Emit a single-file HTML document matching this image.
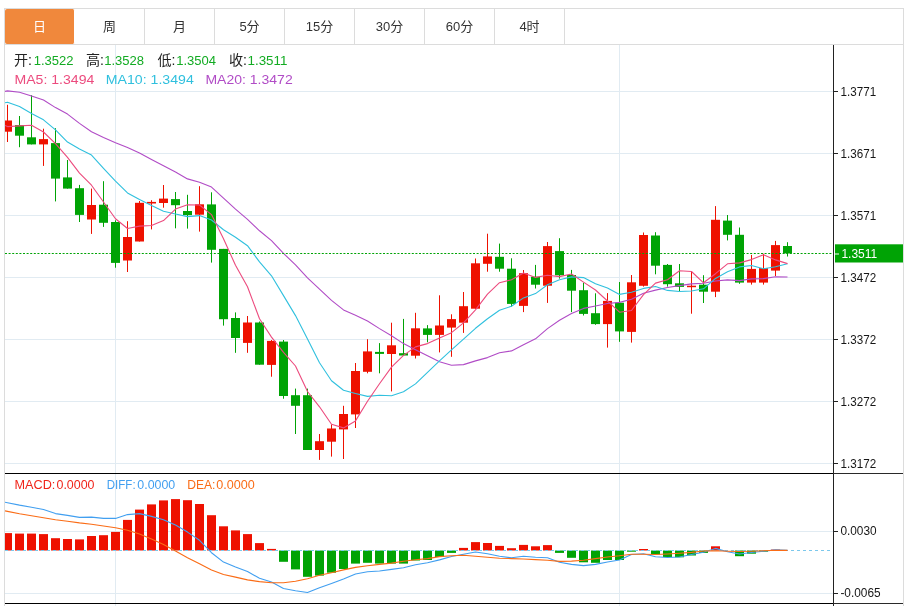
<!DOCTYPE html>
<html><head><meta charset="utf-8"><title>K线图</title>
<style>
html,body{margin:0;padding:0;background:#fff;}
body{width:913px;height:606px;position:relative;overflow:hidden;font-family:"Liberation Sans","Noto Sans CJK SC",sans-serif;}
.frame{position:absolute;left:4px;top:8px;width:898px;height:620px;border:1px solid #dcdcdc;border-bottom:none;}
.tabbar{position:absolute;left:5px;top:44px;width:898px;height:1px;background:#dcdcdc;}
.tab{position:absolute;top:9px;width:69px;height:35px;border-right:1px solid #dcdcdc;line-height:35px;text-align:center;font-size:13px;color:#333;}
.tab.on{background:#f0883c;color:#fff;border-right-color:#fff;border-radius:2px;}
</style></head><body>
<div class="frame"></div>
<div class="tabbar"></div>
<div class="tab on" style="left:5px">日</div><div class="tab" style="left:75px">周</div><div class="tab" style="left:145px">月</div><div class="tab" style="left:215px">5分</div><div class="tab" style="left:285px">15分</div><div class="tab" style="left:355px">30分</div><div class="tab" style="left:425px">60分</div><div class="tab" style="left:495px">4时</div>
<svg width="913" height="606" viewBox="0 0 913 606" style="position:absolute;left:0;top:0" font-family="Liberation Sans, Noto Sans CJK SC, sans-serif">
<defs><clipPath id="cp"><rect x="5" y="45" width="828" height="561"/></clipPath></defs>
<rect x="5" y="91" width="828" height="1" fill="#e1ebf2"/>
<rect x="5" y="153" width="828" height="1" fill="#e1ebf2"/>
<rect x="5" y="215" width="828" height="1" fill="#e1ebf2"/>
<rect x="5" y="277" width="828" height="1" fill="#e1ebf2"/>
<rect x="5" y="339" width="828" height="1" fill="#e1ebf2"/>
<rect x="5" y="401" width="828" height="1" fill="#e1ebf2"/>
<rect x="5" y="463" width="828" height="1" fill="#e1ebf2"/>
<rect x="5" y="531" width="828" height="1" fill="#e1ebf2"/>
<rect x="5" y="593" width="828" height="1" fill="#e1ebf2"/>
<rect x="115" y="45" width="1" height="561" fill="#e1ebf2"/>
<rect x="619" y="45" width="1" height="561" fill="#e1ebf2"/>
<g clip-path="url(#cp)">
<rect x="7.0" y="104.8" width="1" height="37.2" fill="#ee1100"/>
<rect x="3.0" y="120.5" width="9" height="11.2" fill="#ee1100"/>
<rect x="19.0" y="116.0" width="1" height="31.2" fill="#00a305"/>
<rect x="15.0" y="125.1" width="9" height="10.6" fill="#00a305"/>
<rect x="31.0" y="95.2" width="1" height="49.2" fill="#00a305"/>
<rect x="27.0" y="137.3" width="9" height="7.1" fill="#00a305"/>
<rect x="43.0" y="128.7" width="1" height="37.2" fill="#ee1100"/>
<rect x="39.0" y="139.1" width="9" height="5.3" fill="#ee1100"/>
<rect x="55.0" y="128.2" width="1" height="73.2" fill="#00a305"/>
<rect x="51.0" y="143.1" width="9" height="35.5" fill="#00a305"/>
<rect x="67.0" y="160.0" width="1" height="28.6" fill="#00a305"/>
<rect x="63.0" y="177.4" width="9" height="11.2" fill="#00a305"/>
<rect x="79.0" y="184.9" width="1" height="37.1" fill="#00a305"/>
<rect x="75.0" y="188.2" width="9" height="26.7" fill="#00a305"/>
<rect x="91.0" y="188.6" width="1" height="45.3" fill="#ee1100"/>
<rect x="87.0" y="205.0" width="9" height="14.5" fill="#ee1100"/>
<rect x="103.0" y="181.2" width="1" height="45.7" fill="#00a305"/>
<rect x="99.0" y="204.7" width="9" height="18.1" fill="#00a305"/>
<rect x="115.0" y="220.3" width="1" height="47.4" fill="#00a305"/>
<rect x="111.0" y="222.0" width="9" height="40.9" fill="#00a305"/>
<rect x="127.0" y="221.2" width="1" height="50.8" fill="#ee1100"/>
<rect x="123.0" y="237.0" width="9" height="23.5" fill="#ee1100"/>
<rect x="139.0" y="201.0" width="1" height="40.5" fill="#ee1100"/>
<rect x="135.0" y="202.8" width="9" height="38.7" fill="#ee1100"/>
<rect x="151.0" y="200.2" width="1" height="29.2" fill="#ee1100"/>
<rect x="147.0" y="201.9" width="9" height="1.6" fill="#ee1100"/>
<rect x="163.0" y="185.0" width="1" height="22.7" fill="#ee1100"/>
<rect x="159.0" y="198.6" width="9" height="4.4" fill="#ee1100"/>
<rect x="175.0" y="192.0" width="1" height="36.3" fill="#00a305"/>
<rect x="171.0" y="199.1" width="9" height="6.1" fill="#00a305"/>
<rect x="187.0" y="194.8" width="1" height="33.8" fill="#00a305"/>
<rect x="183.0" y="211.0" width="9" height="4.1" fill="#00a305"/>
<rect x="199.0" y="186.2" width="1" height="45.4" fill="#ee1100"/>
<rect x="195.0" y="204.3" width="9" height="10.4" fill="#ee1100"/>
<rect x="211.0" y="192.3" width="1" height="70.3" fill="#00a305"/>
<rect x="207.0" y="204.4" width="9" height="45.4" fill="#00a305"/>
<rect x="223.0" y="248.9" width="1" height="76.7" fill="#00a305"/>
<rect x="219.0" y="248.9" width="9" height="70.3" fill="#00a305"/>
<rect x="235.0" y="312.4" width="1" height="40.4" fill="#00a305"/>
<rect x="231.0" y="318.0" width="9" height="20.0" fill="#00a305"/>
<rect x="247.0" y="316.0" width="1" height="36.8" fill="#ee1100"/>
<rect x="243.0" y="322.5" width="9" height="20.4" fill="#ee1100"/>
<rect x="259.0" y="321.5" width="1" height="43.2" fill="#00a305"/>
<rect x="255.0" y="322.5" width="9" height="42.2" fill="#00a305"/>
<rect x="271.0" y="340.0" width="1" height="36.7" fill="#ee1100"/>
<rect x="267.0" y="340.9" width="9" height="24.0" fill="#ee1100"/>
<rect x="283.0" y="340.0" width="1" height="58.7" fill="#00a305"/>
<rect x="279.0" y="341.6" width="9" height="54.4" fill="#00a305"/>
<rect x="295.0" y="388.6" width="1" height="45.4" fill="#00a305"/>
<rect x="291.0" y="395.2" width="9" height="10.6" fill="#00a305"/>
<rect x="307.0" y="388.6" width="1" height="61.4" fill="#00a305"/>
<rect x="303.0" y="395.2" width="9" height="54.8" fill="#00a305"/>
<rect x="319.0" y="434.0" width="1" height="25.9" fill="#ee1100"/>
<rect x="315.0" y="441.2" width="9" height="8.8" fill="#ee1100"/>
<rect x="331.0" y="424.4" width="1" height="32.2" fill="#ee1100"/>
<rect x="327.0" y="428.5" width="9" height="13.2" fill="#ee1100"/>
<rect x="343.0" y="405.8" width="1" height="53.2" fill="#ee1100"/>
<rect x="339.0" y="414.0" width="9" height="15.4" fill="#ee1100"/>
<rect x="355.0" y="363.0" width="1" height="65.0" fill="#ee1100"/>
<rect x="351.0" y="371.0" width="9" height="43.4" fill="#ee1100"/>
<rect x="367.0" y="339.2" width="1" height="34.1" fill="#ee1100"/>
<rect x="363.0" y="351.4" width="9" height="20.4" fill="#ee1100"/>
<rect x="379.0" y="343.1" width="1" height="30.2" fill="#00a305"/>
<rect x="375.0" y="351.9" width="9" height="2.0" fill="#00a305"/>
<rect x="391.0" y="322.7" width="1" height="68.7" fill="#ee1100"/>
<rect x="387.0" y="345.3" width="9" height="8.7" fill="#ee1100"/>
<rect x="403.0" y="318.9" width="1" height="36.6" fill="#00a305"/>
<rect x="399.0" y="353.2" width="9" height="2.3" fill="#00a305"/>
<rect x="415.0" y="312.8" width="1" height="45.7" fill="#ee1100"/>
<rect x="411.0" y="328.3" width="9" height="27.4" fill="#ee1100"/>
<rect x="427.0" y="325.1" width="1" height="17.2" fill="#00a305"/>
<rect x="423.0" y="328.4" width="9" height="6.5" fill="#00a305"/>
<rect x="439.0" y="295.3" width="1" height="57.1" fill="#ee1100"/>
<rect x="435.0" y="325.5" width="9" height="9.4" fill="#ee1100"/>
<rect x="451.0" y="314.3" width="1" height="42.5" fill="#ee1100"/>
<rect x="447.0" y="319.1" width="9" height="8.5" fill="#ee1100"/>
<rect x="463.0" y="292.0" width="1" height="40.9" fill="#ee1100"/>
<rect x="459.0" y="306.2" width="9" height="16.5" fill="#ee1100"/>
<rect x="475.0" y="258.5" width="1" height="50.2" fill="#ee1100"/>
<rect x="471.0" y="263.3" width="9" height="45.4" fill="#ee1100"/>
<rect x="487.0" y="233.7" width="1" height="38.0" fill="#ee1100"/>
<rect x="483.0" y="256.4" width="9" height="7.4" fill="#ee1100"/>
<rect x="499.0" y="243.6" width="1" height="28.1" fill="#00a305"/>
<rect x="495.0" y="256.8" width="9" height="11.9" fill="#00a305"/>
<rect x="511.0" y="258.3" width="1" height="48.4" fill="#00a305"/>
<rect x="507.0" y="268.7" width="9" height="35.2" fill="#00a305"/>
<rect x="523.0" y="270.0" width="1" height="42.1" fill="#ee1100"/>
<rect x="519.0" y="273.2" width="9" height="32.7" fill="#ee1100"/>
<rect x="535.0" y="264.9" width="1" height="23.6" fill="#00a305"/>
<rect x="531.0" y="276.7" width="9" height="8.0" fill="#00a305"/>
<rect x="547.0" y="242.0" width="1" height="60.9" fill="#ee1100"/>
<rect x="543.0" y="246.1" width="9" height="39.6" fill="#ee1100"/>
<rect x="559.0" y="238.2" width="1" height="40.4" fill="#00a305"/>
<rect x="555.0" y="251.1" width="9" height="24.2" fill="#00a305"/>
<rect x="571.0" y="269.9" width="1" height="42.2" fill="#00a305"/>
<rect x="567.0" y="275.0" width="9" height="15.7" fill="#00a305"/>
<rect x="583.0" y="282.8" width="1" height="32.7" fill="#00a305"/>
<rect x="579.0" y="290.2" width="9" height="23.7" fill="#00a305"/>
<rect x="595.0" y="293.3" width="1" height="31.5" fill="#00a305"/>
<rect x="591.0" y="313.2" width="9" height="10.9" fill="#00a305"/>
<rect x="607.0" y="293.1" width="1" height="54.5" fill="#ee1100"/>
<rect x="603.0" y="300.9" width="9" height="23.2" fill="#ee1100"/>
<rect x="619.0" y="282.0" width="1" height="59.8" fill="#00a305"/>
<rect x="615.0" y="302.7" width="9" height="28.7" fill="#00a305"/>
<rect x="631.0" y="275.0" width="1" height="67.6" fill="#ee1100"/>
<rect x="627.0" y="282.3" width="9" height="49.6" fill="#ee1100"/>
<rect x="643.0" y="232.5" width="1" height="54.1" fill="#ee1100"/>
<rect x="639.0" y="235.0" width="9" height="50.8" fill="#ee1100"/>
<rect x="655.0" y="232.2" width="1" height="42.1" fill="#00a305"/>
<rect x="651.0" y="235.5" width="9" height="30.2" fill="#00a305"/>
<rect x="667.0" y="264.0" width="1" height="22.6" fill="#00a305"/>
<rect x="663.0" y="264.9" width="9" height="19.3" fill="#00a305"/>
<rect x="679.0" y="264.0" width="1" height="27.6" fill="#00a305"/>
<rect x="675.0" y="283.3" width="9" height="3.6" fill="#00a305"/>
<rect x="691.0" y="271.3" width="1" height="42.4" fill="#ee1100"/>
<rect x="687.0" y="285.7" width="9" height="1.5" fill="#ee1100"/>
<rect x="703.0" y="275.2" width="1" height="27.8" fill="#00a305"/>
<rect x="699.0" y="284.7" width="9" height="7.0" fill="#00a305"/>
<rect x="715.0" y="206.1" width="1" height="91.0" fill="#ee1100"/>
<rect x="711.0" y="219.8" width="9" height="71.9" fill="#ee1100"/>
<rect x="727.0" y="215.0" width="1" height="25.4" fill="#00a305"/>
<rect x="723.0" y="220.6" width="9" height="14.2" fill="#00a305"/>
<rect x="739.0" y="227.5" width="1" height="56.3" fill="#00a305"/>
<rect x="735.0" y="234.8" width="9" height="47.8" fill="#00a305"/>
<rect x="751.0" y="254.9" width="1" height="29.7" fill="#ee1100"/>
<rect x="747.0" y="268.9" width="9" height="13.7" fill="#ee1100"/>
<rect x="763.0" y="253.7" width="1" height="30.9" fill="#ee1100"/>
<rect x="759.0" y="268.1" width="9" height="14.5" fill="#ee1100"/>
<rect x="775.0" y="240.9" width="1" height="35.1" fill="#ee1100"/>
<rect x="771.0" y="245.1" width="9" height="25.5" fill="#ee1100"/>
<rect x="787.0" y="242.2" width="1" height="14.3" fill="#00a305"/>
<rect x="783.0" y="246.0" width="9" height="7.4" fill="#00a305"/>
<polyline fill="none" stroke="#b14cc6" stroke-width="1.1" stroke-linejoin="round" points="5,91.4 7.5,90.9 19.5,92.2 31.5,96.1 43.5,100.0 55.5,107.6 67.5,114.1 79.5,123.4 91.5,131.7 103.5,137.4 115.5,142.7 127.5,147.5 139.5,153.1 151.5,159.5 163.5,165.7 175.5,172.1 187.5,178.9 199.5,182.3 211.5,187.1 223.5,198.1 235.5,209.2 247.5,219.3 259.5,230.8 271.5,240.6 283.5,253.4 295.5,264.8 307.5,277.9 319.5,289.2 331.5,300.4 343.5,309.9 355.5,315.3 367.5,321.0 379.5,328.6 391.5,335.8 403.5,343.6 415.5,349.8 427.5,355.8 439.5,361.8 451.5,365.3 463.5,364.6 475.5,360.9 487.5,357.6 499.5,352.8 511.5,350.9 523.5,344.8 535.5,338.8 547.5,328.6 559.5,320.3 571.5,313.4 583.5,308.4 595.5,306.0 607.5,303.5 619.5,302.4 631.5,299.2 643.5,293.2 655.5,290.1 667.5,287.5 679.5,285.6 691.5,283.9 703.5,283.2 715.5,281.0 727.5,279.9 739.5,280.6 751.5,278.9 763.5,278.6 775.5,276.7 787.5,277.0"/>
<polyline fill="none" stroke="#30c0de" stroke-width="1.1" stroke-linejoin="round" points="5,102.8 7.5,102.3 19.5,106.6 31.5,113.4 43.5,119.8 55.5,129.8 67.5,142.1 79.5,149.0 91.5,155.1 103.5,168.3 115.5,181.2 127.5,192.9 139.5,199.6 151.5,205.4 163.5,211.3 175.5,214.0 187.5,216.6 199.5,215.6 211.5,220.0 223.5,229.7 235.5,237.2 247.5,245.7 259.5,261.9 271.5,275.8 283.5,295.6 295.5,315.6 307.5,339.1 319.5,362.8 331.5,380.7 343.5,390.2 355.5,393.5 367.5,396.4 379.5,395.3 391.5,395.7 403.5,391.7 415.5,383.9 427.5,372.4 439.5,360.8 451.5,349.9 463.5,339.1 475.5,328.3 487.5,318.8 499.5,310.3 511.5,306.2 523.5,297.9 535.5,293.6 547.5,284.7 559.5,279.7 571.5,276.9 583.5,277.6 595.5,283.7 607.5,288.1 619.5,294.4 631.5,292.3 643.5,288.4 655.5,286.5 667.5,290.4 679.5,291.5 691.5,291.0 703.5,288.8 715.5,278.4 727.5,271.8 739.5,266.9 751.5,265.5 763.5,268.8 775.5,266.8 787.5,263.7"/>
<polyline fill="none" stroke="#ec4b7e" stroke-width="1.1" stroke-linejoin="round" points="5,125.4 7.5,126.6 19.5,125.9 31.5,125.3 43.5,132.0 55.5,143.7 67.5,157.3 79.5,173.1 91.5,185.2 103.5,202.0 115.5,218.8 127.5,228.5 139.5,226.1 151.5,225.5 163.5,220.6 175.5,209.1 187.5,204.7 199.5,205.0 211.5,214.6 223.5,238.7 235.5,265.3 247.5,286.8 259.5,318.8 271.5,337.1 283.5,352.4 295.5,366.0 307.5,391.5 319.5,406.8 331.5,424.3 343.5,427.9 355.5,420.9 367.5,401.2 379.5,383.8 391.5,367.1 403.5,355.4 415.5,346.9 427.5,343.6 439.5,337.9 451.5,332.7 463.5,322.8 475.5,309.8 487.5,294.1 499.5,282.7 511.5,279.7 523.5,273.1 535.5,277.4 547.5,275.3 559.5,276.6 571.5,274.0 583.5,282.1 595.5,290.0 607.5,301.0 619.5,312.2 631.5,310.5 643.5,294.7 655.5,283.1 667.5,279.7 679.5,270.8 691.5,271.5 703.5,282.8 715.5,273.7 727.5,263.8 739.5,262.9 751.5,259.6 763.5,254.8 775.5,259.9 787.5,263.6"/>
<rect x="3.0" y="533.1" width="9" height="17.4" fill="#ee1100"/>
<rect x="15.0" y="533.6" width="9" height="16.9" fill="#ee1100"/>
<rect x="27.0" y="533.6" width="9" height="16.9" fill="#ee1100"/>
<rect x="39.0" y="534.1" width="9" height="16.4" fill="#ee1100"/>
<rect x="51.0" y="538.2" width="9" height="12.3" fill="#ee1100"/>
<rect x="63.0" y="539.0" width="9" height="11.5" fill="#ee1100"/>
<rect x="75.0" y="539.4" width="9" height="11.1" fill="#ee1100"/>
<rect x="87.0" y="536.0" width="9" height="14.5" fill="#ee1100"/>
<rect x="99.0" y="535.2" width="9" height="15.3" fill="#ee1100"/>
<rect x="111.0" y="531.9" width="9" height="18.6" fill="#ee1100"/>
<rect x="123.0" y="519.9" width="9" height="30.6" fill="#ee1100"/>
<rect x="135.0" y="509.6" width="9" height="40.9" fill="#ee1100"/>
<rect x="147.0" y="504.4" width="9" height="46.1" fill="#ee1100"/>
<rect x="159.0" y="500.4" width="9" height="50.1" fill="#ee1100"/>
<rect x="171.0" y="499.1" width="9" height="51.4" fill="#ee1100"/>
<rect x="183.0" y="500.2" width="9" height="50.3" fill="#ee1100"/>
<rect x="195.0" y="504.0" width="9" height="46.5" fill="#ee1100"/>
<rect x="207.0" y="515.2" width="9" height="35.3" fill="#ee1100"/>
<rect x="219.0" y="526.3" width="9" height="24.2" fill="#ee1100"/>
<rect x="231.0" y="530.4" width="9" height="20.1" fill="#ee1100"/>
<rect x="243.0" y="534.1" width="9" height="16.4" fill="#ee1100"/>
<rect x="255.0" y="543.1" width="9" height="7.4" fill="#ee1100"/>
<rect x="267.0" y="548.9" width="9" height="1.6" fill="#ee1100"/>
<rect x="279.0" y="550.5" width="9" height="11.3" fill="#00a305"/>
<rect x="291.0" y="550.5" width="9" height="18.9" fill="#00a305"/>
<rect x="303.0" y="550.5" width="9" height="26.3" fill="#00a305"/>
<rect x="315.0" y="550.5" width="9" height="25.1" fill="#00a305"/>
<rect x="327.0" y="550.5" width="9" height="22.2" fill="#00a305"/>
<rect x="339.0" y="550.5" width="9" height="18.5" fill="#00a305"/>
<rect x="351.0" y="550.5" width="9" height="13.1" fill="#00a305"/>
<rect x="363.0" y="550.5" width="9" height="12.3" fill="#00a305"/>
<rect x="375.0" y="550.5" width="9" height="13.1" fill="#00a305"/>
<rect x="387.0" y="550.5" width="9" height="13.1" fill="#00a305"/>
<rect x="399.0" y="550.5" width="9" height="13.1" fill="#00a305"/>
<rect x="411.0" y="550.5" width="9" height="10.0" fill="#00a305"/>
<rect x="423.0" y="550.5" width="9" height="9.5" fill="#00a305"/>
<rect x="435.0" y="550.5" width="9" height="6.5" fill="#00a305"/>
<rect x="447.0" y="550.5" width="9" height="2.4" fill="#00a305"/>
<rect x="459.0" y="547.9" width="9" height="2.6" fill="#ee1100"/>
<rect x="471.0" y="542.1" width="9" height="8.4" fill="#ee1100"/>
<rect x="483.0" y="543.0" width="9" height="7.5" fill="#ee1100"/>
<rect x="495.0" y="545.9" width="9" height="4.6" fill="#ee1100"/>
<rect x="507.0" y="548.2" width="9" height="2.3" fill="#ee1100"/>
<rect x="519.0" y="544.9" width="9" height="5.6" fill="#ee1100"/>
<rect x="531.0" y="546.3" width="9" height="4.2" fill="#ee1100"/>
<rect x="543.0" y="545.1" width="9" height="5.4" fill="#ee1100"/>
<rect x="555.0" y="550.5" width="9" height="2.4" fill="#00a305"/>
<rect x="567.0" y="550.5" width="9" height="7.3" fill="#00a305"/>
<rect x="579.0" y="550.5" width="9" height="11.8" fill="#00a305"/>
<rect x="591.0" y="550.5" width="9" height="12.3" fill="#00a305"/>
<rect x="603.0" y="550.5" width="9" height="9.5" fill="#00a305"/>
<rect x="615.0" y="550.5" width="9" height="9.5" fill="#00a305"/>
<rect x="627.0" y="550.5" width="9" height="1.2" fill="#00a305"/>
<rect x="639.0" y="549.0" width="9" height="1.5" fill="#ee1100"/>
<rect x="651.0" y="550.5" width="9" height="4.0" fill="#00a305"/>
<rect x="663.0" y="550.5" width="9" height="6.5" fill="#00a305"/>
<rect x="675.0" y="550.5" width="9" height="6.8" fill="#00a305"/>
<rect x="687.0" y="550.5" width="9" height="5.0" fill="#00a305"/>
<rect x="699.0" y="550.5" width="9" height="2.4" fill="#00a305"/>
<rect x="711.0" y="546.3" width="9" height="4.2" fill="#ee1100"/>
<rect x="735.0" y="550.5" width="9" height="5.7" fill="#00a305"/>
<rect x="747.0" y="550.5" width="9" height="3.2" fill="#00a305"/>
<rect x="759.0" y="550.5" width="9" height="1.2" fill="#00a305"/>
<rect x="771.0" y="549.6" width="9" height="0.9" fill="#ee1100"/>
<line x1="5" y1="550.5" x2="831" y2="550.5" stroke="#7cc8ec" stroke-width="1" stroke-dasharray="3 3"/>
<polyline fill="none" stroke="#419ff0" stroke-width="1.1" stroke-linejoin="round" points="5,502.3 7.5,502.7 19.5,505.1 31.5,507.2 43.5,509.5 55.5,513.6 67.5,515.4 79.5,517.4 91.5,517.1 103.5,518.4 115.5,518.4 127.5,514.6 139.5,513.6 151.5,516.4 163.5,519.7 175.5,525.1 187.5,532.1 199.5,540.3 211.5,552.7 223.5,562.1 235.5,567.1 247.5,571.4 259.5,578.3 271.5,582.0 283.5,588.5 295.5,590.8 307.5,592.5 319.5,587.8 331.5,583.4 343.5,578.9 355.5,574.0 367.5,571.8 379.5,571.0 391.5,569.4 403.5,567.8 415.5,564.8 427.5,562.8 439.5,559.9 451.5,556.5 463.5,554.2 475.5,552.0 487.5,553.7 499.5,556.2 511.5,557.8 523.5,556.2 535.5,557.3 547.5,557.8 559.5,562.2 571.5,564.4 583.5,565.6 595.5,564.4 607.5,562.0 619.5,560.0 631.5,554.5 643.5,553.7 655.5,556.7 667.5,557.5 679.5,557.0 691.5,554.5 703.5,552.2 715.5,548.4 727.5,551.7 739.5,554.0 751.5,552.5 763.5,551.2 775.5,549.9 787.5,550.4"/>
<polyline fill="none" stroke="#fa6c16" stroke-width="1.1" stroke-linejoin="round" points="5,510.9 7.5,511.4 19.5,513.8 31.5,515.8 43.5,517.8 55.5,519.8 67.5,521.2 79.5,522.9 91.5,524.3 103.5,526.0 115.5,527.7 127.5,530.3 139.5,534.1 151.5,539.0 163.5,544.5 175.5,551.1 187.5,557.7 199.5,563.8 211.5,570.0 223.5,574.5 235.5,577.1 247.5,579.9 259.5,581.6 271.5,582.8 283.5,582.7 295.5,581.2 307.5,578.8 319.5,575.3 331.5,572.7 343.5,569.9 355.5,567.4 367.5,565.7 379.5,564.4 391.5,563.1 403.5,561.2 415.5,559.7 427.5,558.6 439.5,556.6 451.5,555.8 463.5,555.3 475.5,556.2 487.5,557.3 499.5,558.3 511.5,558.6 523.5,559.0 535.5,559.6 547.5,560.3 559.5,561.4 571.5,561.1 583.5,560.3 595.5,558.6 607.5,557.0 619.5,555.8 631.5,554.2 643.5,554.2 655.5,554.5 667.5,554.0 679.5,553.3 691.5,552.4 703.5,551.0 715.5,550.7 727.5,551.2 739.5,551.5 751.5,551.2 763.5,550.7 775.5,550.2 787.5,550.4"/>
</g>
<line x1="5" y1="253.5" x2="832" y2="253.5" stroke="#00a305" stroke-width="1.2" stroke-dasharray="2 1.6"/>
<rect x="833" y="45" width="1" height="561" fill="#222"/>
<rect x="5" y="473" width="898" height="1" fill="#2a2a2a"/>
<rect x="5" y="473" width="828" height="1" fill="#000"/>
<rect x="5" y="603" width="898" height="1" fill="#2a2a2a"/>
<rect x="5" y="603" width="828" height="1" fill="#000"/>
<rect x="833" y="91" width="5" height="1" fill="#222"/>
<text x="840.5" y="95.6" font-size="12" fill="#161616" textLength="35.6" lengthAdjust="spacingAndGlyphs">1.3771</text>
<rect x="833" y="153" width="5" height="1" fill="#222"/>
<text x="840.5" y="157.6" font-size="12" fill="#161616" textLength="35.6" lengthAdjust="spacingAndGlyphs">1.3671</text>
<rect x="833" y="215" width="5" height="1" fill="#222"/>
<text x="840.5" y="219.6" font-size="12" fill="#161616" textLength="35.6" lengthAdjust="spacingAndGlyphs">1.3571</text>
<rect x="833" y="277" width="5" height="1" fill="#222"/>
<text x="840.5" y="281.6" font-size="12" fill="#161616" textLength="35.6" lengthAdjust="spacingAndGlyphs">1.3472</text>
<rect x="833" y="339" width="5" height="1" fill="#222"/>
<text x="840.5" y="343.6" font-size="12" fill="#161616" textLength="35.6" lengthAdjust="spacingAndGlyphs">1.3372</text>
<rect x="833" y="401" width="5" height="1" fill="#222"/>
<text x="840.5" y="405.6" font-size="12" fill="#161616" textLength="35.6" lengthAdjust="spacingAndGlyphs">1.3272</text>
<rect x="833" y="463" width="5" height="1" fill="#222"/>
<text x="840.5" y="467.6" font-size="12" fill="#161616" textLength="35.6" lengthAdjust="spacingAndGlyphs">1.3172</text>
<rect x="833" y="531" width="5" height="1" fill="#222"/>
<text x="840.4" y="535.2" font-size="12" fill="#161616" textLength="36.2" lengthAdjust="spacingAndGlyphs">0.0030</text>
<rect x="833" y="593" width="5" height="1" fill="#222"/>
<text x="840.4" y="597.2" font-size="12" fill="#161616" textLength="40.2" lengthAdjust="spacingAndGlyphs">-0.0065</text>
<rect x="835" y="244.3" width="68" height="18.2" fill="#00a305"/>
<rect x="835" y="253.5" width="4" height="1" fill="#fff"/>
<text x="841.4" y="258" font-size="12" fill="#fff" textLength="35.8" lengthAdjust="spacingAndGlyphs">1.3511</text>
<text x="13.899999999999999" y="65.0" font-size="14" fill="#222" textLength="18" lengthAdjust="spacingAndGlyphs">开:</text>
<text x="33.7" y="65.1" font-size="13" fill="#12ab22" textLength="39.9" lengthAdjust="spacingAndGlyphs">1.3522</text>
<text x="85.9" y="65.0" font-size="14" fill="#222" textLength="18" lengthAdjust="spacingAndGlyphs">高:</text>
<text x="104.2" y="65.1" font-size="13" fill="#12ab22" textLength="39.9" lengthAdjust="spacingAndGlyphs">1.3528</text>
<text x="157.5" y="65.0" font-size="14" fill="#222" textLength="18" lengthAdjust="spacingAndGlyphs">低:</text>
<text x="176.2" y="65.1" font-size="13" fill="#12ab22" textLength="39.9" lengthAdjust="spacingAndGlyphs">1.3504</text>
<text x="228.89999999999998" y="65.0" font-size="14" fill="#222" textLength="18" lengthAdjust="spacingAndGlyphs">收:</text>
<text x="247.5" y="65.1" font-size="13" fill="#12ab22" textLength="39.9" lengthAdjust="spacingAndGlyphs">1.3511</text>
<text x="14.5" y="83.8" font-size="13" fill="#ec4b7e" textLength="79.8" lengthAdjust="spacingAndGlyphs">MA5: 1.3494</text>
<text x="105.8" y="83.8" font-size="13" fill="#30c0de" textLength="88" lengthAdjust="spacingAndGlyphs">MA10: 1.3494</text>
<text x="205.4" y="83.8" font-size="13" fill="#b14cc6" textLength="87.3" lengthAdjust="spacingAndGlyphs">MA20: 1.3472</text>
<text x="14.5" y="488.8" font-size="12" fill="#f0241a" textLength="40.8" lengthAdjust="spacingAndGlyphs">MACD:</text>
<text x="56.5" y="488.8" font-size="12" fill="#f0241a" textLength="38" lengthAdjust="spacingAndGlyphs">0.0000</text>
<text x="106.8" y="488.8" font-size="12" fill="#419ff0" textLength="28.8" lengthAdjust="spacingAndGlyphs">DIFF:</text>
<text x="137.3" y="488.8" font-size="12" fill="#419ff0" textLength="37.9" lengthAdjust="spacingAndGlyphs">0.0000</text>
<text x="187.2" y="488.8" font-size="12" fill="#fa6c16" textLength="28.3" lengthAdjust="spacingAndGlyphs">DEA:</text>
<text x="216.2" y="488.8" font-size="12" fill="#fa6c16" textLength="38.5" lengthAdjust="spacingAndGlyphs">0.0000</text>
</svg>
</body></html>
